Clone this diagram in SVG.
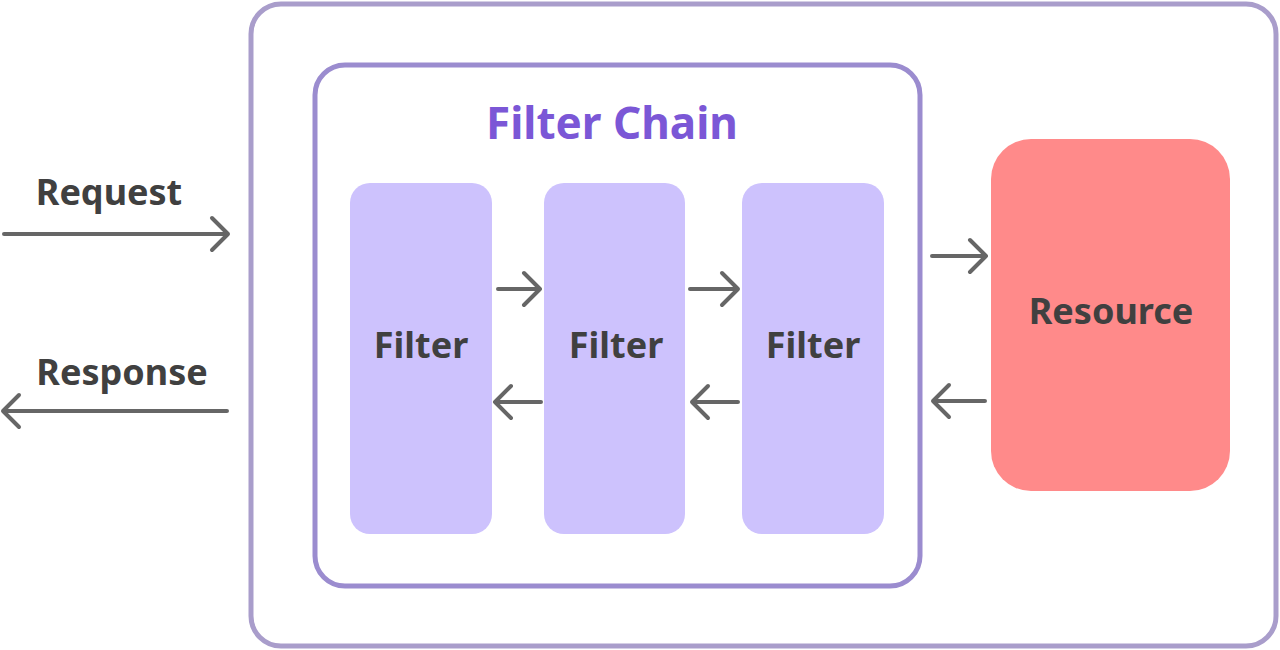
<svg xmlns="http://www.w3.org/2000/svg" width="1280" height="650" viewBox="0 0 1280 650">
<style>
.lbl{font-family:"Noto Sans","Open Sans","Liberation Sans",sans-serif;font-weight:700;fill:#404040;text-anchor:middle}
.filter{fill:#cdc2fd}
.arr{stroke:#666;stroke-width:4;fill:none;stroke-linecap:round;stroke-linejoin:round}
</style>
<rect width="1280" height="650" fill="#fff"/>
<g id="container">
<rect x="251" y="4" width="1025" height="642" rx="30" fill="#fff" stroke="#a99dcb" stroke-width="5"/>
</g>
<g id="filter-chain">
<rect x="315" y="65" width="605" height="521" rx="30" fill="#fff" stroke="#9b8ccf" stroke-width="5"/>
<text x="612" y="139" class="lbl" style="fill:#7b57d6;font-size:44px">Filter Chain</text>
</g>
<g id="filter1"><rect class="filter" x="350" y="183" width="142" height="351" rx="20"/><text class="lbl" x="421" y="358" font-size="36">Filter</text></g>
<g id="filter2"><rect class="filter" x="544" y="183" width="141" height="351" rx="20"/><text class="lbl" x="616" y="358" font-size="36">Filter</text></g>
<g id="filter3"><rect class="filter" x="742" y="183" width="142" height="351" rx="20"/><text class="lbl" x="813" y="358" font-size="36">Filter</text></g>
<g id="resource"><rect x="991" y="139" width="239" height="352" rx="40" fill="#ff8a8a"/><text class="lbl" x="1111" y="324" font-size="36">Resource</text></g>
<g id="labels">
<text class="lbl" x="109" y="205" font-size="36">Request</text>
<text class="lbl" x="122" y="385" font-size="36">Response</text>
</g>
<g id="connectors" class="arr">
<path d="M4 234H228M212 218L228 234L212 250"/>
<path d="M227 411H3M19 395L3 411L19 427"/>
<path d="M498 289H540M524 273L540 289L524 305"/>
<path d="M690 289H738M722 273L738 289L722 305"/>
<path d="M541 402H495M511 386L495 402L511 418"/>
<path d="M738 402H692M708 386L692 402L708 418"/>
<path d="M932 256H986M970 240L986 256L970 272"/>
<path d="M985 401H933M949 385L933 401L949 417"/>
</g>
</svg>
